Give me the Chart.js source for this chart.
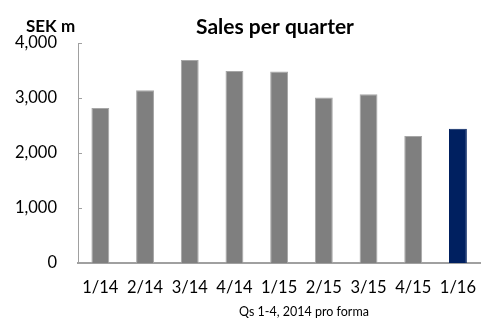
<!DOCTYPE html>
<html>
<head>
<meta charset="utf-8">
<script src="https://cdn.jsdelivr.net/npm/chart.js@4"></script>
<style>
  html, body { margin: 0; padding: 0; background: #fff; }
  #wrap { width: 491px; height: 318px; position: relative; }
</style>
</head>
<body>
<div id="wrap"><canvas id="c" width="491" height="318"></canvas></div>
<script>
const categories = ["1/14", "2/14", "3/14", "4/14", "1/15", "2/15", "3/15", "4/15", "1/16"];
const sales = [2820, 3140, 3690, 3490, 3480, 3010, 3070, 2310, 2440];
const barColors = ["#7f7f7f", "#7f7f7f", "#7f7f7f", "#7f7f7f", "#7f7f7f", "#7f7f7f", "#7f7f7f", "#7f7f7f", "#002060"];
const borderColors = ["#a6a6a6", "#a6a6a6", "#a6a6a6", "#a6a6a6", "#a6a6a6", "#a6a6a6", "#a6a6a6", "#a6a6a6", "#002060"];
const yTicks = [0, 1000, 2000, 3000, 4000];
const titleText = "Sales per quarter";
const unitText = "SEK m";
const footnoteText = "Qs 1-4, 2014 pro forma";

const FONT = "Lato, 'Open Sans', sans-serif";

const textPlugin = {
  id: 'texts',
  afterDraw(chart) {
    const ctx = chart.ctx;
    ctx.save();
    ctx.fillStyle = '#000';
    ctx.textBaseline = 'alphabetic';
    ctx.font = "bold 21px " + FONT;
    ctx.textAlign = 'center';
    ctx.fillText(titleText, 275, 34);
    ctx.font = "bold 17px " + FONT;
    ctx.textAlign = 'left';
    ctx.fillText(unitText, 26, 32);
    ctx.font = "12.5px " + FONT;
    ctx.textAlign = 'center';
    ctx.fillText(footnoteText, 304, 316);
    // inward tick marks on y axis
    const y = chart.scales.y;
    ctx.strokeStyle = '#a0a0a0';
    ctx.lineWidth = 1;
    yTicks.forEach(v => {
      const py = Math.round(y.getPixelForValue(v)) + 0.5;
      ctx.beginPath();
      ctx.moveTo(chart.chartArea.left, py);
      ctx.lineTo(chart.chartArea.left + 4, py);
      ctx.stroke();
    });
    ctx.restore();
  }
};

new Chart(document.getElementById('c'), {
  type: 'bar',
  data: {
    labels: categories,
    datasets: [{
      data: sales,
      backgroundColor: barColors,
      borderColor: borderColors,
      borderWidth: 1,
      categoryPercentage: 1.0,
      barPercentage: 0.4
    }]
  },
  options: {
    responsive: false,
    animation: false,
    devicePixelRatio: 1,
    layout: { padding: { left: 12, top: 43, right: 0, bottom: 0 } },
    plugins: { legend: { display: false }, tooltip: { enabled: false }, title: { display: false } },
    scales: {
      x: {
        grid: { display: false, drawTicks: false },
        border: { display: true, color: '#a0a0a0', width: 2 },
        ticks: { color: '#000', font: { family: FONT, size: 16.5 }, padding: 15, maxRotation: 0, autoSkip: false },
        afterFit(s) { s.height = 55; }
      },
      y: {
        min: 0, max: 4000,
        afterBuildTicks(s) { s.ticks = yTicks.map(v => ({ value: v })); },
        grid: { display: false, drawTicks: false },
        border: { display: true, color: '#a0a0a0', width: 1 },
        ticks: {
          color: '#000', font: { family: FONT, size: 16.5 }, padding: 21,
          callback: v => v.toLocaleString('en-US')
        },
        afterFit(s) { s.width = 66; }
      }
    }
  },
  plugins: [textPlugin]
});
</script>
</body>
</html>
